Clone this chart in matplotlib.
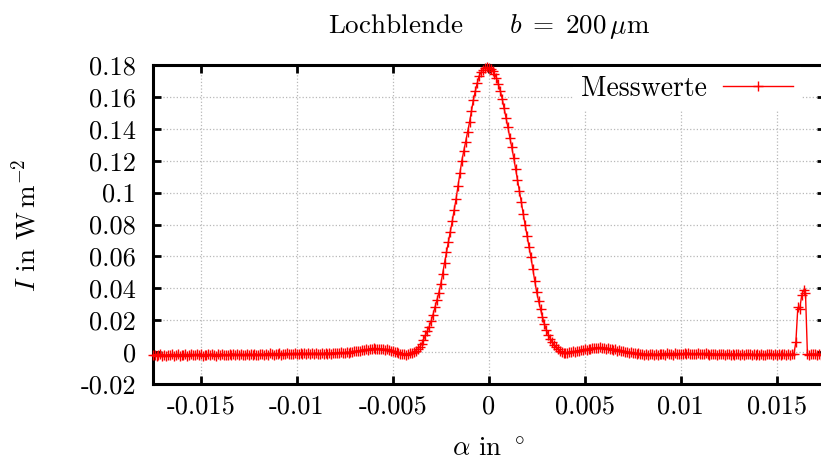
import numpy as np
import matplotlib.pyplot as plt
from matplotlib.ticker import FuncFormatter, MultipleLocator

# Messwerte in mW/m^2, Schrittweite 0.0001 grad von -0.0175 bis 0.0175
left_tail = [
    -2.1, -1.5, -2.4, -1.8, -1.2, -2.2, -1.7, -2.5, -1.6, -1.9,
    -1.3, -2.2, -1.9, -1.4, -2.3, -1.6, -2.0, -1.1, -2.4, -1.7,
    -1.2, -1.9, -2.1, -1.4, -1.7, -1.0, -2.2, -1.5, -1.8, -1.3,
    -2.0, -1.1, -1.7, -2.3, -1.4, -1.8, -1.2, -1.9, -1.5, -2.1,
    -1.3, -1.7, -0.9, -1.8, -1.4, -2.0, -1.2, -1.6, -1.9, -1.1,
    -1.6, -1.2, -1.8, -0.9, -1.5, -1.9, -1.1, -1.4, -1.7, -1.0,
    -1.5, -0.8, -1.3, -1.6, -1.0, -1.4, -0.7, -1.5, -1.1, -1.3,
    -0.7, -1.3, -0.9, -1.4, -0.6, -1.2, -1.0, -0.5, -1.3, -0.8,
    -1.2, -0.6, -1.1, -0.8, -1.3, -0.5, -0.9, -1.2, -0.7, -1.0,
    -0.4, -0.9, -0.5, -1.0, -0.3, -0.7, -0.5, -0.8, -0.2, -0.5,
    -0.6, 0.0, -0.3, 0.3, 0.1, 0.6, 0.4, 1.0, 0.8, 1.3,
    1.1, 1.7, 1.4, 2.0, 1.8, 2.3, 1.9, 2.2, 1.7, 2.1,
    1.9, 1.5, 1.8, 1.2, 1.0, 0.5, 0.3, -0.2, -0.5, -0.9,
    -1.3, -1.0, -1.5, -1.1, -0.8,
]

peak = [
    -0.5, 0.0, 0.8, 1.8, 3.0, 5.0, 7.5, 10.5, 13.0, 16.0,
    19.5, 23.5, 28.0, 32.5, 37.0, 42.5, 49.0, 56.0, 62.5, 69.0,
    75.5, 82.0, 89.0, 96.0, 104.0, 112.0, 120.0, 126.0, 132.0, 138.0,
    144.0, 151.0, 158.0, 163.5, 168.5, 173.0, 175.5, 177.0, 178.0, 178.5,
    178.0,
    177.5, 176.5, 174.5, 172.0, 168.0, 164.0, 159.0, 153.0, 147.0, 141.0,
    134.5, 128.5, 122.0, 115.0, 108.0, 101.0, 94.0, 86.5, 79.5, 73.0,
    66.0, 59.5, 52.0, 44.5, 37.5, 32.0, 27.0, 22.0, 17.5, 14.0,
    11.0, 8.5, 6.5, 4.5, 3.0, 1.8, 0.8, 0.0, -0.4, -0.6,
]

right_tail = [
    -0.4, 0.1, -0.2, 0.5, 0.3, 0.9, 0.7, 1.3, 1.1, 1.8,
    1.6, 2.2, 2.0, 2.6, 2.3, 2.8, 2.5, 2.9, 2.4, 2.7,
    2.2, 2.5, 1.9, 2.1, 1.5, 1.7, 1.0, 1.2, 0.6, 0.7,
    0.1, 0.3, -0.4, -0.1, -0.7, -0.5, -1.1, -0.8, -1.4, -1.0,
    -1.5, -1.1, -1.7, -1.2, -0.9, -1.6, -1.3, -1.8, -1.0, -1.4,
    -1.1, -1.6, -0.8, -1.3, -1.0, -1.5, -0.7, -1.2, -1.4, -0.9,
    -1.3, -0.8, -1.2, -0.6, -1.1, -1.4, -0.9, -1.2, -0.7, -1.3,
    -1.0, -1.4, -0.8, -1.2, -1.5, -0.9, -1.3, -1.0, -1.6, -1.1,
    -1.4, -1.0, -1.6, -1.2, -0.9, -1.5, -1.1, -1.7, -1.3, -1.0,
    -1.5, -1.2, -1.8, -1.1, -1.4, -1.0, -1.6, -1.3, -1.9, -1.2,
    -1.6, -1.1, -1.5, -1.9, -1.2, -1.4, -1.0, -1.7, -1.3, -1.5,
    -1.2, -1.6, -1.0, -1.4, -1.8, -1.1, -1.5, -1.3, -0.9, 6.5,
    28.0, 27.0, 35.5, 39.0, 37.0, -1.2, -1.6, -1.0, -1.4, -1.1,
    -1.5, -1.2, -1.7, -1.3, -1.0,
]

intensity = np.array(left_tail + peak + right_tail) * 1e-3
alpha = np.linspace(-0.0175, 0.0175, len(intensity))

plt.rcParams['font.family'] = 'cmr10'
plt.rcParams['mathtext.fontset'] = 'cm'
plt.rcParams['axes.unicode_minus'] = False
plt.rcParams['axes.formatter.use_mathtext'] = True
plt.rcParams['font.size'] = 19

fig = plt.figure(figsize=(8.21, 4.63), dpi=100)
ax = fig.add_axes([0.186, 0.1706, 0.8185, 0.689])

ax.plot(alpha, intensity, color='red', lw=1.0, marker='+', ms=7, mew=1.0,
        label='Messwerte', clip_on=False, zorder=3)

ax.set_xlim(-0.0175, 0.0175)
ax.set_ylim(-0.02, 0.18)
ax.xaxis.set_major_locator(MultipleLocator(0.005))
ax.yaxis.set_major_locator(MultipleLocator(0.02))
fmt = FuncFormatter(lambda v, p: '%g' % (round(v, 6) + 0.0))
ax.xaxis.set_major_formatter(fmt)
ax.yaxis.set_major_formatter(fmt)

ax.grid(True, color='#b8b8b8', linestyle=':', linewidth=0.9)
ax.tick_params(direction='in', length=6, width=2, top=True, right=True,
               labelsize=19)
ax.tick_params(axis='x', pad=8)
ax.tick_params(axis='y', pad=12)
for s in ax.spines.values():
    s.set_linewidth(2.2)

leg = ax.legend(loc='center right', bbox_to_anchor=(0.965, 0.925),
                borderaxespad=0, markerfirst=False, numpoints=1,
                handlelength=2.5, handletextpad=0.6, borderpad=0.3,
                frameon=True, fancybox=False, fontsize=20)
leg.get_frame().set_edgecolor('none')
leg.get_frame().set_facecolor('white')
leg.get_frame().set_alpha(1)

fig.text(488.7 / 821, 1 - 33 / 463,
         r'Lochblende$\quad\quad b\;=\;200\,\mu$m',
         ha='center', va='baseline', fontsize=19.5)
fig.text(488.7 / 821, 1.5 / 463, r'$\alpha$ in $^\circ$',
         ha='center', va='bottom', fontsize=19.5)
fig.text(25 / 821, 1 - 225 / 463, r'$I$ in W$\,$m$^{-2}$', rotation=90,
         ha='center', va='center', fontsize=19.5)

fig.savefig('out.png', dpi=100)
